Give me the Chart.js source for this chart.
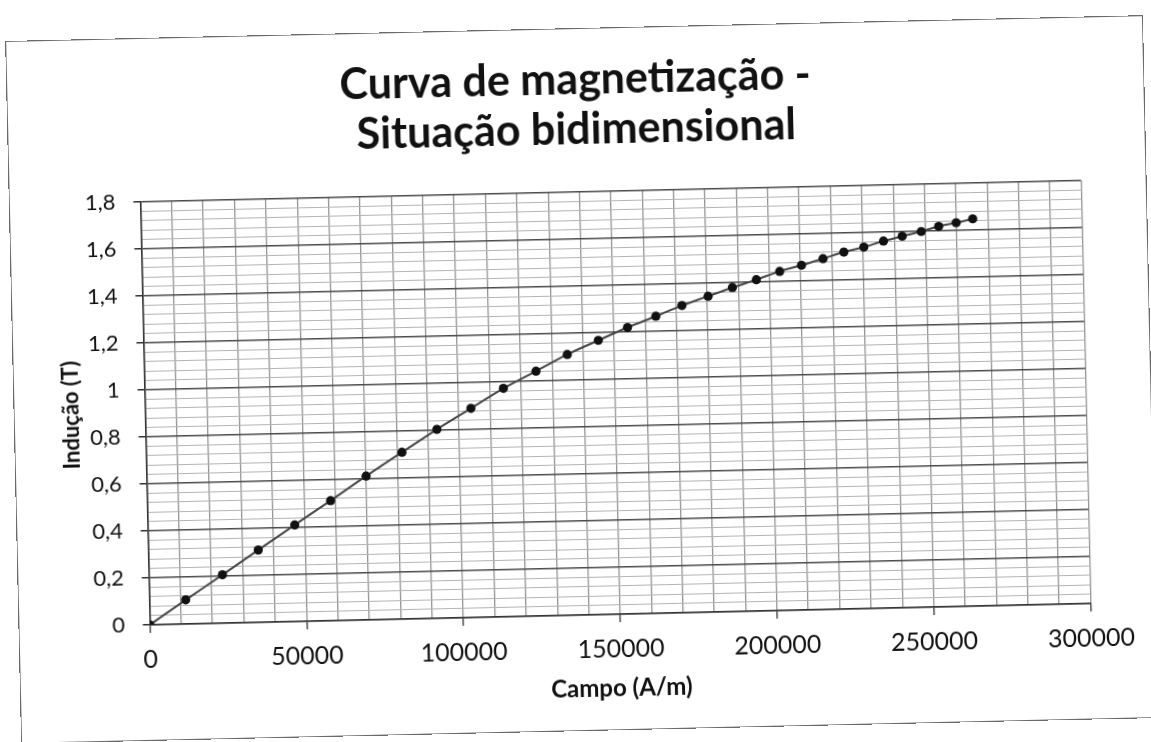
<!DOCTYPE html>
<html><head><meta charset="utf-8">
<script src="https://cdn.jsdelivr.net/npm/chart.js@4.4.0/dist/chart.umd.min.js"></script>
<style>
html,body{margin:0;padding:0;background:#fff;overflow:hidden;width:1151px;height:742px;}
#frame{position:absolute;left:13px;top:27.5px;width:1138px;height:703px;transform:rotate(-1.3deg);transform-origin:50% 50%;background:#fff;outline:1.5px solid #6a6a6a;outline-offset:-1.5px;}
canvas{display:block;}
</style></head><body>
<div id="frame"><canvas id="c" width="1138" height="703"></canvas></div>
<script>
const campo = [0, 11600, 23500, 35100, 46900, 58500, 70000, 81600, 92900, 103900, 114400, 124900, 135000, 145000, 154400, 163500, 171900, 180300, 188100, 195800, 203300, 210300, 217200, 223900, 230300, 236600, 242600, 248700, 254300, 259900, 265200];
const inducao = [0, 0.103, 0.206, 0.308, 0.411, 0.511, 0.612, 0.710, 0.804, 0.890, 0.972, 1.042, 1.110, 1.167, 1.219, 1.264, 1.307, 1.344, 1.379, 1.410, 1.443, 1.467, 1.493, 1.519, 1.538, 1.562, 1.581, 1.599, 1.619, 1.633, 1.648];
const xTickLabels = ['0', '50000', '100000', '150000', '200000', '250000', '300000'];
const yTickLabels = ['0', '0,2', '0,4', '0,6', '0,8', '1', '1,2', '1,4', '1,6', '1,8'];
const titleLines = ['Curva de magnetização -', 'Situação bidimensional'];
const xTitle = 'Campo (A/m)';
const yTitle = 'Indução (T)';

const points = campo.map((x, i) => ({x: x, y: inducao[i]}));
const isXMajor = v => Math.abs(v / 50000 - Math.round(v / 50000)) < 1e-9;
const isYMajor = v => Math.abs(v * 5 - Math.round(v * 5)) < 1e-6;

new Chart(document.getElementById('c'), {
  type: 'line',
  data: {
    datasets: [{
      data: points,
      yAxisID: 'y',
      borderColor: '#454545',
      borderWidth: 2,
      pointRadius: 4.6,
      pointBackgroundColor: '#111',
      pointBorderColor: '#111',
      pointBorderWidth: 0,
      cubicInterpolationMode: 'monotone',
      fill: false
    }]
  },
  options: {
    responsive: false,
    animation: false,
    layout: { padding: 0 },
    plugins: {
      legend: { display: false },
      tooltip: { enabled: false },
      title: {
        display: true,
        text: titleLines,
        color: '#111',
        font: { family: 'Lato', size: 43, weight: 'bold', lineHeight: 1.163 },
        padding: { top: 27.3, bottom: 36.7 }
      }
    },
    scales: {
      x: {
        type: 'linear',
        min: 0, max: 300000,
        afterFit: s => { s.height = 116; },
        ticks: {
          stepSize: 10000,
          autoSkip: false,
          maxRotation: 0,
          padding: 12,
          color: '#111',
          font: { family: 'Lato', size: 25 },
          callback: v => isXMajor(v) ? xTickLabels[Math.round(v / 50000)] : ''
        },
        grid: {
          color: '#959595',
          lineWidth: 1.3,
          tickLength: 8,
          tickColor: ctx => isXMajor(ctx.tick.value) ? '#333' : 'rgba(0,0,0,0)'
        },
        border: { color: '#333', width: 1.6 },
        title: {
          display: true,
          text: xTitle,
          color: '#111',
          font: { family: 'Lato', size: 24, weight: 'bold', lineHeight: 1.2 },
          padding: { top: 0, bottom: 27.6 }
        }
      },
      y: {
        type: 'linear',
        position: 'left',
        min: 0, max: 1.8,
        afterFit: s => { s.width = 131.4; },
        ticks: {
          stepSize: 0.04,
          autoSkip: false,
          padding: 18,
          color: '#111',
          font: { family: 'Lato', size: 22 },
          callback: v => isYMajor(v) ? yTickLabels[Math.round(v * 5)] : ''
        },
        grid: {
          color: ctx => isYMajor(ctx.tick.value) ? '#4a4a4a' : '#b4b4b4',
          lineWidth: ctx => isYMajor(ctx.tick.value) ? 1.5 : 1,
          tickLength: 7,
          tickColor: ctx => isYMajor(ctx.tick.value) ? '#333' : 'rgba(0,0,0,0)'
        },
        border: { color: '#333', width: 1.6 },
        title: {
          display: true,
          text: yTitle,
          color: '#111',
          font: { family: 'Lato', size: 22, weight: 'bold', lineHeight: 1.2 },
          padding: { top: 45, bottom: 0 }
        }
      },
      yRight: {
        type: 'linear',
        position: 'right',
        afterFit: s => { s.width = 65.6; },
        grid: { display: false, drawTicks: false },
        ticks: { display: false },
        border: { display: false }
      }
    }
  }
});
</script>
</body></html>
